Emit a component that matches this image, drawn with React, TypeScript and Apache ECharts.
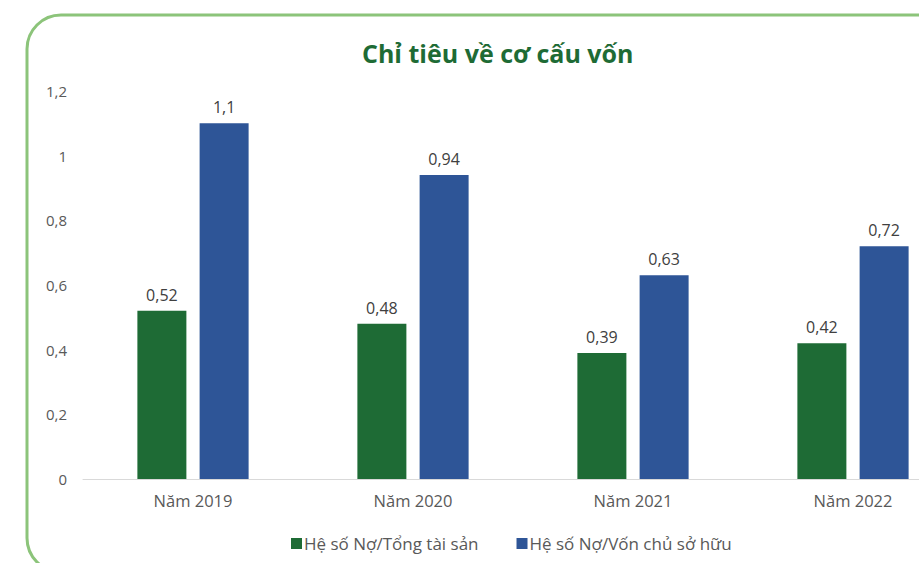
import React, { useEffect, useRef } from "react";
import * as echarts from "echarts";

const categories = ["Năm 2019", "Năm 2020", "Năm 2021", "Năm 2022"];
const debtToAssets = [0.52, 0.48, 0.39, 0.42];
const debtToEquity = [1.1, 0.94, 0.63, 0.72];
const seriesNames = ["Hệ số Nợ/Tổng tài sản", "Hệ số Nợ/Vốn chủ sở hữu"];
const titleText = "Chỉ tiêu về cơ cấu vốn";

const fmt = (v: number) => String(+Number(v).toFixed(2)).replace(".", ",");
const FONT = "'Open Sans', 'Noto Sans', sans-serif";

export default function App() {
  const ref = useRef<HTMLDivElement>(null);
  useEffect(() => {
    if (!ref.current) return;
    const chart = echarts.init(ref.current, undefined, { renderer: "svg" });
    const labelCfg = {
      show: true,
      position: "top",
      distance: 8,
      color: "#404040",
      fontSize: 16,
      fontFamily: FONT,
      formatter: (p: any) => fmt(p.value),
    };
    chart.setOption({
      animation: false,
      backgroundColor: "#ffffff",
      textStyle: { fontFamily: FONT },
      title: {
        text: titleText,
        left: 357,
        top: 35,
        textStyle: { color: "#1e6b35", fontSize: 25, fontWeight: "bold", fontFamily: FONT },
      },
      graphic: [
        {
          type: "rect",
          shape: { x: 27, y: 15, width: 960, height: 557, r: 34 },
          style: { fill: "none", stroke: "#8cc47a", lineWidth: 3 },
          silent: true,
        },
      ],
      legend: {
        left: 286,
        top: 530,
        itemWidth: 11,
        itemHeight: 11,
        itemGap: 38,
        icon: "rect",
        textStyle: { color: "#595959", fontSize: 17, fontFamily: FONT, padding: [0, 0, 0, -3] },
        data: seriesNames,
      },
      grid: { left: 83, top: 91, width: 880, height: 388, containLabel: false, outerBoundsMode: "none" },
      xAxis: {
        type: "category",
        data: categories,
        axisLine: { lineStyle: { color: "#d9d9d9", width: 1 } },
        axisTick: { show: false },
        axisLabel: { color: "#595959", fontSize: 16.5, margin: 13, fontFamily: FONT },
      },
      yAxis: {
        type: "value",
        min: 0,
        max: 1.2,
        interval: 0.2,
        splitLine: { show: false },
        axisLine: { show: false },
        axisTick: { show: false },
        axisLabel: {
          color: "#595959",
          fontSize: 15,
          margin: 16,
          fontFamily: FONT,
          formatter: (v: number) => fmt(v),
        },
      },
      series: [
        {
          name: seriesNames[0],
          type: "bar",
          data: debtToAssets,
          barWidth: 49,
          barGap: "27%",
          itemStyle: { color: "#1e6b35" },
          label: labelCfg,
        },
        {
          name: seriesNames[1],
          type: "bar",
          data: debtToEquity,
          barWidth: 49,
          barGap: "27%",
          itemStyle: { color: "#2e5597" },
          label: labelCfg,
        },
      ],
    });
    return () => chart.dispose();
  }, []);
  return (
    <div
      ref={ref}
      style={{ position: "fixed", left: 0, top: 0, width: 919, height: 563 }}
    />
  );
}
